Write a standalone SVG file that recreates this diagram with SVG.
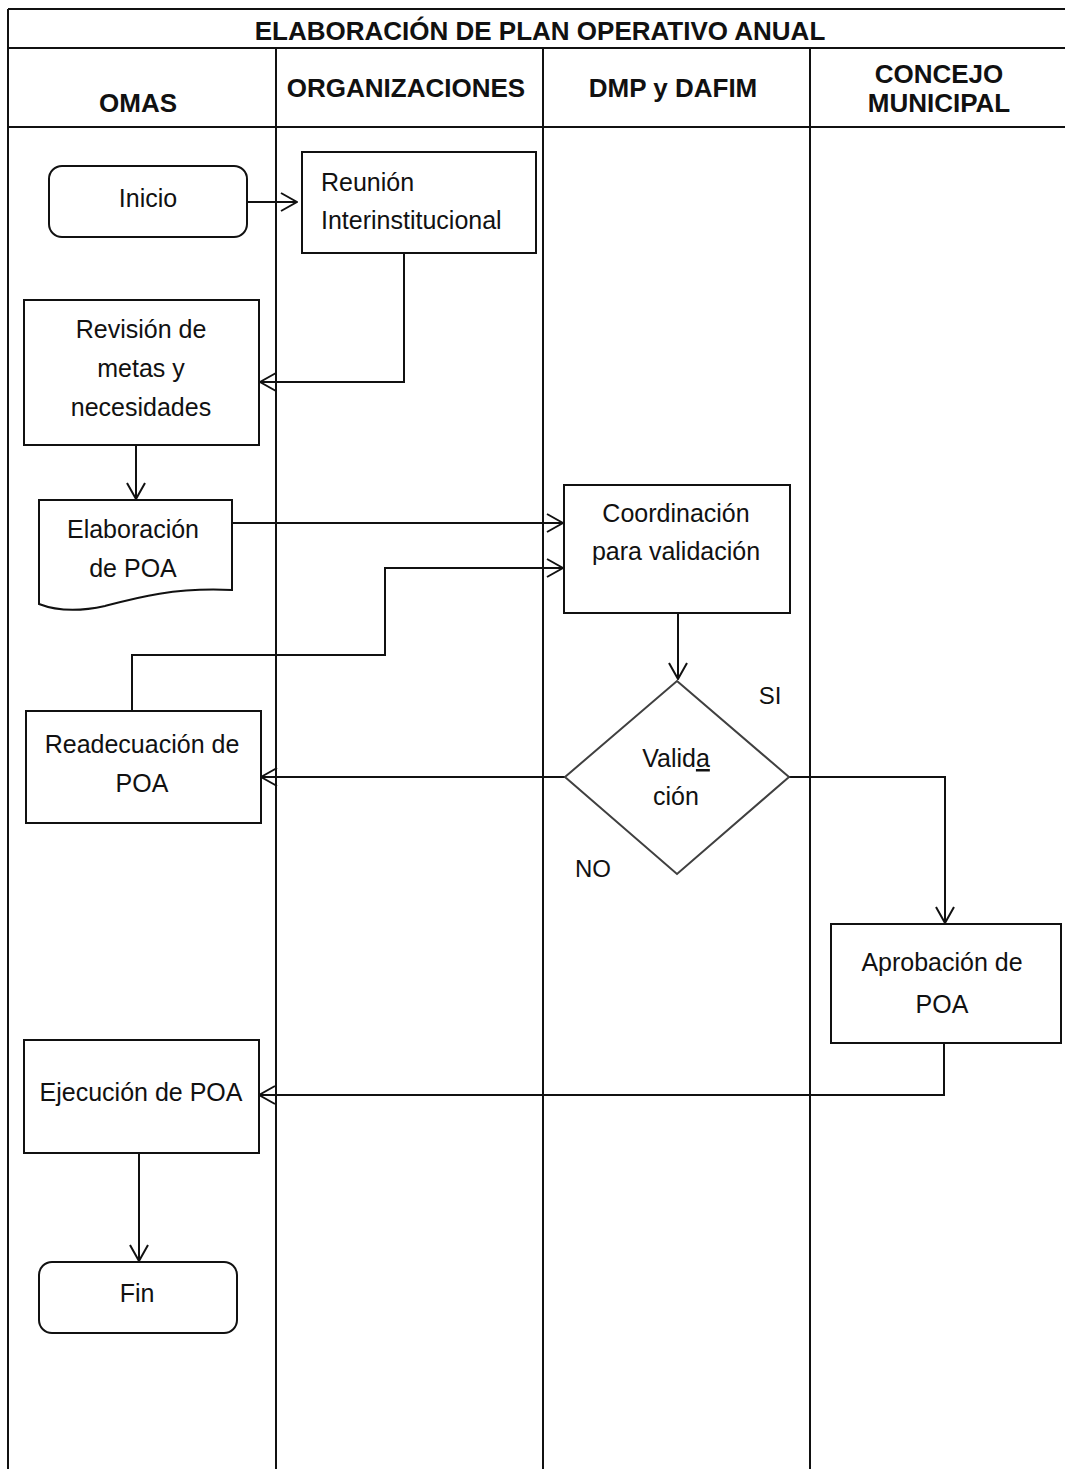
<svg xmlns="http://www.w3.org/2000/svg" width="1065" height="1469" viewBox="0 0 1065 1469">
<style>
.grid{stroke:#111;stroke-width:2;fill:none}
.hdr{font-family:"Liberation Sans",Arial,sans-serif;font-weight:bold;font-size:26px;fill:#111;text-anchor:middle}
.box{fill:#fff;stroke:#111;stroke-width:2}
.dia{fill:#fff;stroke:#404040;stroke-width:2}
.t{font-family:"Liberation Sans",Arial,sans-serif;font-size:25px;fill:#111;text-anchor:middle}
.tl{text-anchor:start}
.lbl{font-family:"Liberation Sans",Arial,sans-serif;font-size:24px;fill:#111;text-anchor:middle}
.con{fill:none;stroke:#111;stroke-width:2;marker-end:url(#arr)}
.con2{fill:none;stroke:#111;stroke-width:2}
</style>
<defs>
<marker id="arr" markerUnits="userSpaceOnUse" viewBox="0 0 18 20" markerWidth="18" markerHeight="20" refX="17" refY="10" orient="auto">
<path d="M1,1 L17,10 L1,19" fill="none" stroke="#111" stroke-width="2"/>
</marker>
</defs>
<rect width="1065" height="1469" fill="#fff"/>
<g id="table">
<line class="grid" x1="8" y1="9" x2="1065" y2="9"/>
<line class="grid" x1="8" y1="48" x2="1065" y2="48"/>
<line class="grid" x1="8" y1="127" x2="1065" y2="127"/>
<line class="grid" x1="8" y1="9" x2="8" y2="1469"/>
<line class="grid" x1="276" y1="48" x2="276" y2="1469"/>
<line class="grid" x1="543" y1="48" x2="543" y2="1469"/>
<line class="grid" x1="810" y1="48" x2="810" y2="1469"/>
<text class="hdr" x="540" y="40">ELABORACIÓN DE PLAN OPERATIVO ANUAL</text>
<text class="hdr" x="138" y="112">OMAS</text>
<text class="hdr" x="406" y="97">ORGANIZACIONES</text>
<text class="hdr" x="673" y="97">DMP y DAFIM</text>
<text class="hdr" x="939" y="83">CONCEJO</text>
<text class="hdr" x="939" y="112">MUNICIPAL</text>
</g>
<g id="connectors">
<path class="con" d="M247,202 H297"/>
<path class="con" d="M404,253 V382 H260"/>
<path class="con" d="M136,445 V499"/>
<path class="con" d="M232,523 H563"/>
<path class="con" d="M132,711 V655 H385 V568 H563"/>
<path class="con" d="M678,614 V679"/>
<path class="con" d="M565,777 H261"/>
<path class="con" d="M789,777 H945 V923"/>
<path class="con" d="M944,1043 V1095 H259"/>
<path class="con" d="M139,1153 V1261"/>
<text class="lbl" x="770" y="704">SI</text>
<text class="lbl" x="593" y="877">NO</text>
</g>
<g id="inicio">
<rect class="box" x="49" y="166" width="198" height="71" rx="13"/>
<text class="t" x="148" y="207">Inicio</text>
</g>
<g id="reunion">
<rect class="box" x="302" y="152" width="234" height="101"/>
<text class="t tl" x="321" y="191">Reunión</text>
<text class="t tl" x="321" y="229">Interinstitucional</text>
</g>
<g id="revision">
<rect class="box" x="24" y="300" width="235" height="145"/>
<text class="t" x="141" y="338">Revisión de</text>
<text class="t" x="141" y="377">metas y</text>
<text class="t" x="141" y="416">necesidades</text>
</g>
<g id="elaboracion">
<path class="box" d="M39,500 H232 V590 C175,587 135,598 105,606 C78,612 57,611 39,604 Z"/>
<text class="t" x="133" y="538">Elaboración</text>
<text class="t" x="133" y="577">de POA</text>
</g>
<g id="coordinacion">
<rect class="box" x="564" y="485" width="226" height="128"/>
<text class="t" x="676" y="522">Coordinación</text>
<text class="t" x="676" y="560">para validación</text>
</g>
<g id="validacion">
<polygon class="dia" points="677,681 789,777 677,874 565,777"/>
<text class="t" x="676" y="767">Valid<tspan text-decoration="underline">a</tspan></text>
<text class="t" x="676" y="805">ción</text>
</g>
<g id="readecuacion">
<rect class="box" x="26" y="711" width="235" height="112"/>
<text class="t" x="142" y="753">Readecuación de</text>
<text class="t" x="142" y="792">POA</text>
</g>
<g id="aprobacion">
<rect class="box" x="831" y="924" width="230" height="119"/>
<text class="t" x="942" y="971">Aprobación de</text>
<text class="t" x="942" y="1013">POA</text>
</g>
<g id="ejecucion">
<rect class="box" x="24" y="1040" width="235" height="113"/>
<text class="t" x="141" y="1101">Ejecución de POA</text>
</g>
<g id="fin">
<rect class="box" x="39" y="1262" width="198" height="71" rx="13"/>
<text class="t" x="137" y="1302">Fin</text>
</g>
</svg>
